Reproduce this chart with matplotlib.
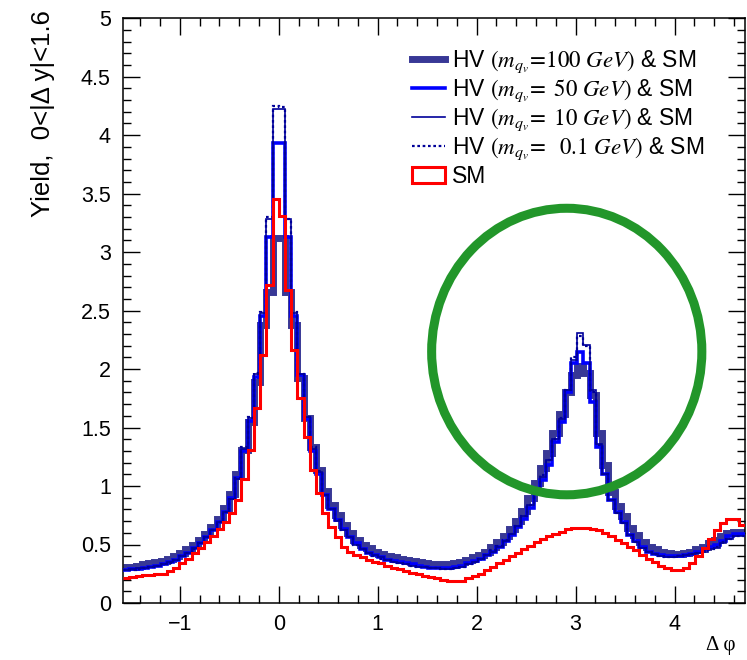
import numpy as np
import matplotlib

matplotlib.use("Agg")
import matplotlib.pyplot as plt
from matplotlib.lines import Line2D
from matplotlib.patches import Ellipse, Patch
from matplotlib.ticker import MultipleLocator

plt.rcParams["font.family"] = ["Liberation Sans", "DejaVu Sans"]
plt.rcParams["mathtext.fontset"] = "stix"

# 100 bins in delta phi from -pi/2 to 3pi/2
n_bins = 100
phi_lo, phi_hi = -np.pi / 2, 3 * np.pi / 2

sm = [0.21, 0.22, 0.23, 0.24, 0.24, 0.25, 0.25, 0.27, 0.30, 0.34,
      0.38, 0.43, 0.47, 0.52, 0.57, 0.63, 0.69, 0.77, 0.88, 1.06,
      1.31, 1.67, 2.12, 2.72, 3.45, 3.31, 2.68, 2.16, 1.75, 1.42,
      1.14, 0.94, 0.77, 0.65, 0.56, 0.48, 0.44, 0.41, 0.39, 0.37,
      0.35, 0.34, 0.32, 0.30, 0.29, 0.27, 0.26, 0.25, 0.23, 0.22,
      0.21, 0.20, 0.19, 0.185, 0.19, 0.21, 0.23, 0.25, 0.28, 0.31,
      0.34, 0.37, 0.40, 0.43, 0.46, 0.49, 0.52, 0.55, 0.57, 0.59,
      0.61, 0.63, 0.64, 0.645, 0.64, 0.63, 0.62, 0.60, 0.57, 0.54,
      0.51, 0.48, 0.45, 0.41, 0.38, 0.35, 0.32, 0.30, 0.28, 0.28,
      0.30, 0.34, 0.40, 0.47, 0.55, 0.62, 0.68, 0.72, 0.72, 0.67]

hv_100 = [0.31, 0.31, 0.32, 0.33, 0.34, 0.35, 0.36, 0.38, 0.40, 0.43,
          0.46, 0.50, 0.54, 0.59, 0.65, 0.72, 0.81, 0.93, 1.10, 1.31,
          1.55, 1.89, 2.38, 2.66, 3.12, 3.12, 2.66, 2.38, 1.92, 1.58,
          1.33, 1.14, 0.96, 0.84, 0.75, 0.67, 0.60, 0.54, 0.50, 0.47,
          0.44, 0.42, 0.40, 0.39, 0.38, 0.37, 0.36, 0.35, 0.34, 0.33,
          0.33, 0.33, 0.33, 0.34, 0.35, 0.37, 0.39, 0.41, 0.44, 0.48,
          0.52, 0.57, 0.63, 0.70, 0.79, 0.90, 1.03, 1.15, 1.28, 1.45,
          1.62, 1.80, 1.95, 2.03, 1.97, 1.78, 1.45, 1.18, 0.95, 0.83,
          0.74, 0.64, 0.58, 0.52, 0.48, 0.46, 0.44, 0.43, 0.42, 0.42,
          0.43, 0.44, 0.46, 0.48, 0.51, 0.54, 0.57, 0.60, 0.61, 0.61]

hv_50 = [0.28, 0.29, 0.29, 0.30, 0.31, 0.32, 0.33, 0.35, 0.37, 0.40,
         0.43, 0.47, 0.51, 0.56, 0.62, 0.69, 0.78, 0.90, 1.07, 1.30,
         1.56, 1.93, 2.45, 3.13, 3.93, 3.93, 3.13, 2.45, 1.95, 1.57,
         1.30, 1.10, 0.92, 0.80, 0.71, 0.63, 0.56, 0.51, 0.46, 0.43,
         0.41, 0.39, 0.37, 0.36, 0.35, 0.34, 0.33, 0.32, 0.31, 0.30,
         0.30, 0.30, 0.30, 0.31, 0.32, 0.34, 0.36, 0.38, 0.41, 0.44,
         0.48, 0.53, 0.58, 0.65, 0.72, 0.81, 0.95, 1.05, 1.18, 1.38,
         1.55, 1.80, 2.05, 2.15, 2.05, 1.72, 1.33, 1.10, 0.88, 0.78,
         0.69, 0.58, 0.53, 0.48, 0.44, 0.42, 0.41, 0.40, 0.40, 0.40,
         0.41, 0.42, 0.44, 0.46, 0.48, 0.50, 0.53, 0.57, 0.59, 0.59]

hv_10 = [0.28, 0.29, 0.30, 0.30, 0.31, 0.32, 0.33, 0.35, 0.37, 0.40,
         0.43, 0.47, 0.51, 0.56, 0.62, 0.69, 0.78, 0.89, 1.06, 1.32,
         1.58, 1.96, 2.48, 3.28, 4.22, 4.22, 3.28, 2.48, 1.96, 1.59,
         1.32, 1.12, 0.92, 0.80, 0.70, 0.62, 0.56, 0.50, 0.46, 0.43,
         0.41, 0.39, 0.37, 0.35, 0.34, 0.33, 0.32, 0.31, 0.31, 0.30,
         0.30, 0.29, 0.29, 0.30, 0.31, 0.33, 0.35, 0.38, 0.41, 0.44,
         0.48, 0.53, 0.59, 0.66, 0.74, 0.84, 0.97, 1.08, 1.22, 1.40,
         1.57, 1.82, 2.08, 2.31, 2.21, 1.82, 1.36, 1.10, 0.88, 0.77,
         0.68, 0.58, 0.52, 0.47, 0.44, 0.42, 0.40, 0.39, 0.39, 0.40,
         0.41, 0.42, 0.43, 0.44, 0.46, 0.47, 0.51, 0.55, 0.57, 0.57]

hv_01 = [0.28, 0.28, 0.29, 0.30, 0.31, 0.32, 0.33, 0.34, 0.37, 0.40,
         0.43, 0.46, 0.51, 0.56, 0.62, 0.69, 0.78, 0.89, 1.07, 1.33,
         1.59, 1.97, 2.49, 3.30, 4.25, 4.24, 3.28, 2.49, 1.96, 1.59,
         1.33, 1.13, 0.92, 0.80, 0.71, 0.62, 0.56, 0.50, 0.46, 0.43,
         0.40, 0.38, 0.37, 0.35, 0.34, 0.33, 0.32, 0.31, 0.31, 0.30,
         0.30, 0.29, 0.29, 0.30, 0.31, 0.33, 0.35, 0.38, 0.41, 0.45,
         0.49, 0.54, 0.59, 0.66, 0.74, 0.84, 0.97, 1.09, 1.22, 1.40,
         1.58, 1.82, 2.10, 2.28, 2.20, 1.80, 1.35, 1.10, 0.88, 0.77,
         0.68, 0.58, 0.52, 0.47, 0.44, 0.42, 0.40, 0.39, 0.39, 0.40,
         0.41, 0.42, 0.43, 0.45, 0.46, 0.48, 0.52, 0.55, 0.57, 0.57]

labels = [
    r"HV $\mathit{(m_{q_{v}}\!=\!100\ GeV)}$ & SM",
    r"HV $\mathit{(m_{q_{v}}\!=\ 50\ GeV)}$ & SM",
    r"HV $\mathit{(m_{q_{v}}\!=\ 10\ GeV)}$ & SM",
    r"HV $\mathit{(m_{q_{v}}\!=\ \ 0.1\ GeV)}$ & SM",
    "SM",
]
ytick_labels = ["0", "0.5", "1", "1.5", "2", "2.5", "3", "3.5", "4", "4.5", "5"]

edges = np.linspace(phi_lo, phi_hi, n_bins + 1)

fig = plt.figure(figsize=(7.47, 6.6), dpi=100)
ax = fig.add_axes([0.165, 0.0864, 0.8325, 0.886])

c_slate = "#383896"
c_blue = "#0000ff"
c_navy = "#000099"
c_red = "#ff0000"

ax.stairs(hv_100, edges, baseline=None, color=c_slate, lw=5.0, zorder=2)
ax.stairs(hv_50, edges, baseline=None, color=c_blue, lw=2.6, zorder=3)
ax.stairs(hv_10, edges, baseline=None, color=c_navy, lw=1.2, zorder=4)
ax.stairs(hv_01, edges, baseline=None, color=c_navy, lw=1.6, ls=(0, (1.2, 1.2)), zorder=4)
ax.stairs(sm, edges, baseline=None, color=c_red, lw=2.2, zorder=5)

# green circle highlighting the away-side peak
ax.add_patch(Ellipse((2.91, 2.15), 2.73, 2.45, fill=False, ec="#22962a", lw=6.5, zorder=6))

ax.set_xlim(phi_lo, phi_hi)
ax.set_ylim(0, 5)
ax.xaxis.set_major_locator(MultipleLocator(1))
ax.xaxis.set_minor_locator(MultipleLocator(0.2))
ax.yaxis.set_minor_locator(MultipleLocator(0.1))
ax.set_yticks(np.arange(0, 5.01, 0.5))
ax.set_yticklabels(ytick_labels)
ax.tick_params(which="both", direction="in", top=True, right=True, labelsize=15.5, width=1)
ax.tick_params(which="major", length=12)
ax.tick_params(which="minor", length=6)
ax.tick_params(axis="x", pad=8)
ax.tick_params(axis="y", pad=9)
for s in ax.spines.values():
    s.set_linewidth(1.1)

fig.text(0.057, 0.985, "Yield,  0<|Δ y|<1.6", rotation=90, ha="center", va="top", fontsize=18.5)
fig.text(0.985, 0.008, "Δ φ", ha="right", va="bottom", fontsize=15, family=["Liberation Serif", "DejaVu Serif"])

handles = [
    Line2D([], [], color=c_slate, lw=5.0),
    Line2D([], [], color=c_blue, lw=2.6),
    Line2D([], [], color=c_navy, lw=1.2),
    Line2D([], [], color=c_navy, lw=1.6, ls=(0, (1.2, 1.2))),
    Patch(facecolor="none", edgecolor=c_red, lw=2.2),
]
ax.legend(handles, labels, loc="upper left", bbox_to_anchor=(0.551, 0.927),
          bbox_transform=fig.transFigure, frameon=False, fontsize=16.5,
          handlelength=1.45, handletextpad=0.3, labelspacing=0.12,
          borderpad=0, borderaxespad=0)

fig.savefig("out.png", dpi=100)
